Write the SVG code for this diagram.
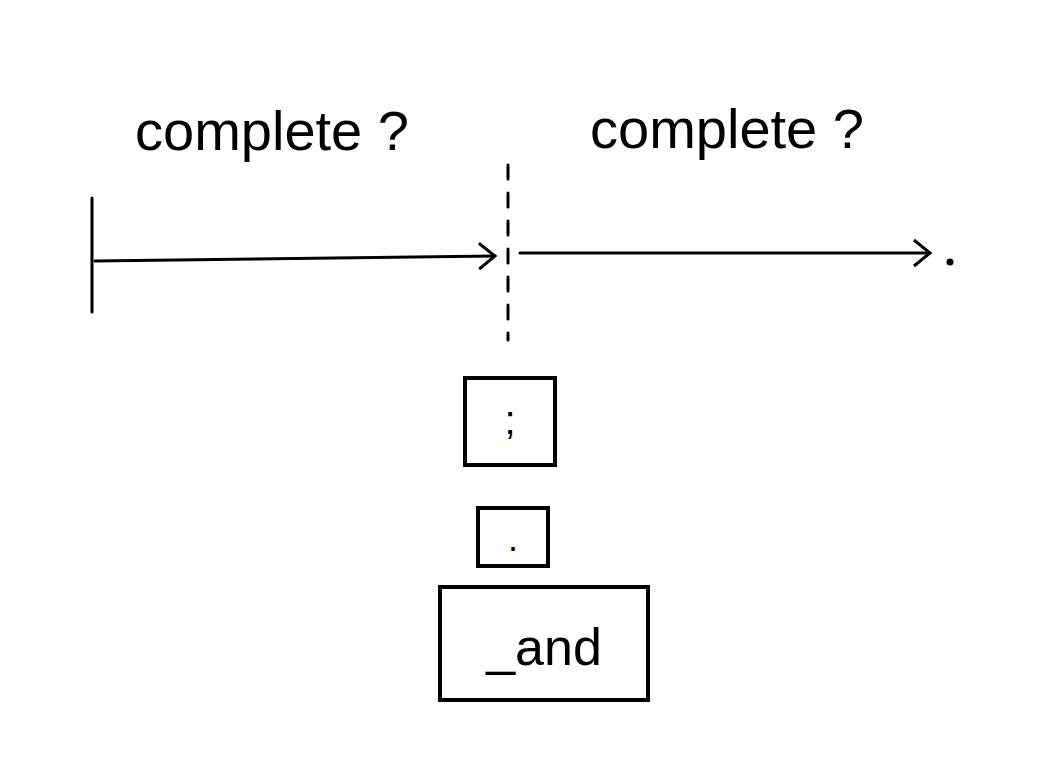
<svg xmlns="http://www.w3.org/2000/svg" width="1048" height="759" viewBox="0 0 1048 759">
<style>
.l{stroke:#000;stroke-width:3;fill:none;stroke-linecap:round}
.b{stroke:#000;stroke-width:4;fill:#fff}
.t{font-family:"Liberation Sans",sans-serif;fill:#000}
</style>
<defs><marker id="a" viewBox="0 0 20 30" refX="18" refY="15" markerWidth="20" markerHeight="30" markerUnits="userSpaceOnUse" orient="auto"><path d="M2 2 L18 15 L2 28" fill="none" stroke="#000" stroke-width="3"/></marker></defs>
<rect width="1048" height="759" fill="#fff"/>
<g id="connectors">
<line class="l" x1="92" y1="198" x2="92" y2="312"/>
<line class="l" x1="95" y1="261" x2="495" y2="256" marker-end="url(#a)"/>
<line class="l" x1="508" y1="165" x2="508" y2="340" stroke-dasharray="14 14"/>
<line class="l" x1="520" y1="253" x2="930" y2="253" marker-end="url(#a)"/>
<circle cx="950" cy="262" r="3.5"/>
</g>
<g id="label1"><text class="t" x="135" y="150" font-size="56">complete ?</text></g>
<g id="label2"><text class="t" x="590" y="148" font-size="56">complete ?</text></g>
<g id="n1"><rect class="b" x="465" y="378" width="90" height="87"/><text class="t" x="510" y="434" font-size="40" text-anchor="middle">;</text></g>
<g id="n2"><rect class="b" x="478" y="508" width="70" height="58"/><text class="t" x="513" y="551" font-size="36" text-anchor="middle">.</text></g>
<g id="n3"><rect class="b" x="440" y="587" width="208" height="113"/><text class="t" x="544" y="665" font-size="52" text-anchor="middle">_and</text></g>
</svg>
